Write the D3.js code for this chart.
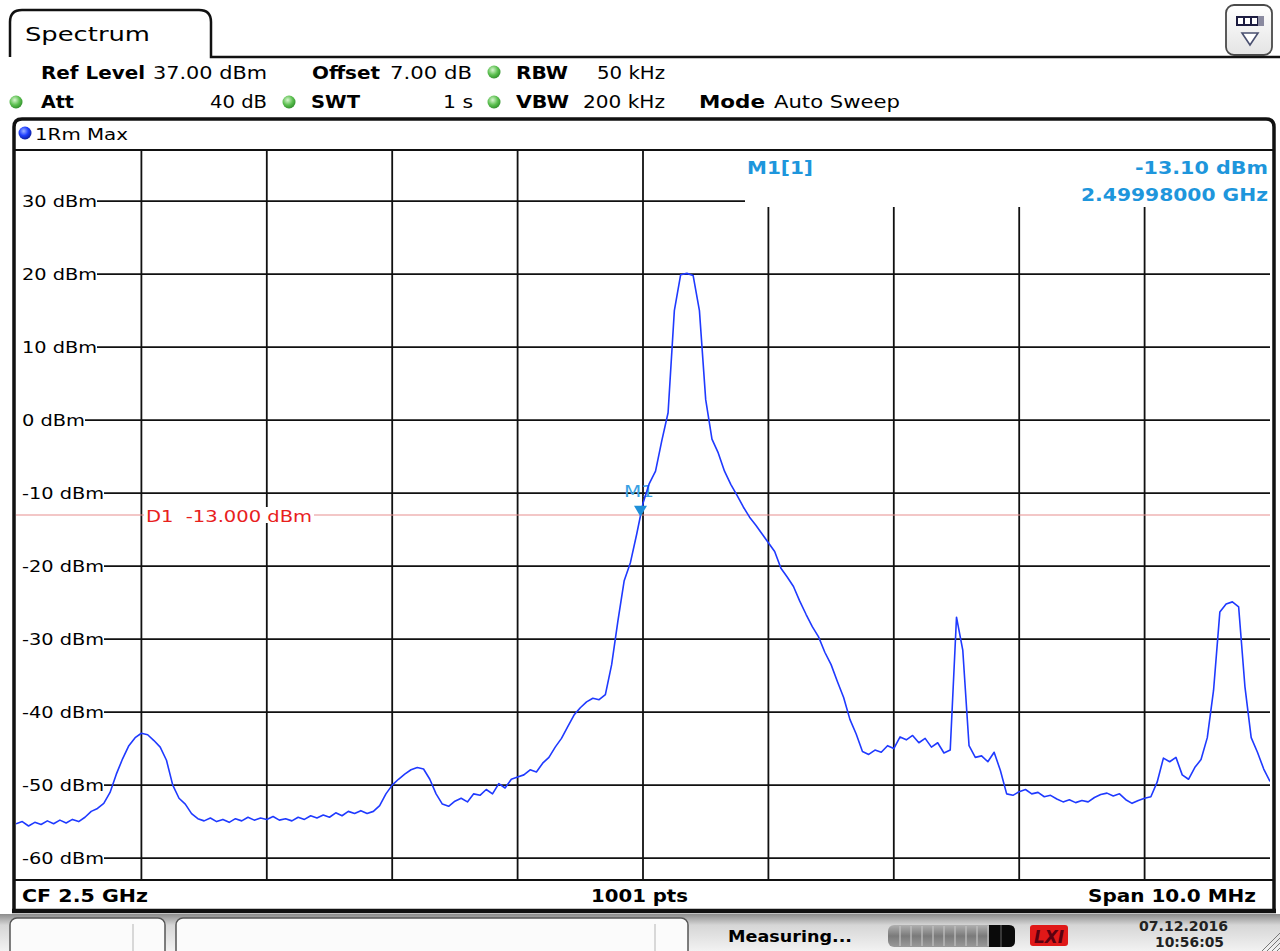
<!DOCTYPE html>
<html>
<head>
<meta charset="utf-8">
<script src="https://cdn.jsdelivr.net/npm/d3@7"></script>
<style>
  html, body { margin: 0; padding: 0; background: #fff; }
  svg { display: block; }
  text { font-family: "DejaVu Sans", Verdana, sans-serif; }
</style>
</head>
<body>
<svg id="chart" width="1280" height="951"></svg>
<script>
// ---------------- DATA ----------------
const centerFreqGHz = 2.5;
const spanMHz = 10;
const refLevel = 37;          // dBm, top of grid
const bottomLevel = -63;      // dBm, bottom of grid
const yTickValues = [30, 20, 10, 0, -10, -20, -30, -40, -50, -60];
const yTickLabels = ["30 dBm", "20 dBm", "10 dBm", "0 dBm", "-10 dBm", "-20 dBm", "-30 dBm", "-40 dBm", "-50 dBm", "-60 dBm"];
const xGridOffsetsMHz = [-4, -3, -2, -1, 0, 1, 2, 3, 4];

// trace sampled every 0.05 MHz from -5 MHz to +5 MHz (offset from CF), values in dBm
const traceDbm = [
  -55.3, -55.0, -55.6, -55.1, -55.4, -54.9, -55.3, -54.8, -55.2, -54.7,
  -55.0, -54.4, -53.6, -53.2, -52.5, -51.0, -48.5, -46.4, -44.6, -43.5,
  -42.9, -43.1, -43.9, -44.8, -46.6, -50.0, -51.8, -52.6, -53.9, -54.6,
  -54.9, -54.5, -55.0, -54.7, -55.1, -54.6, -54.9, -54.4, -54.8, -54.5,
  -54.7, -54.3, -54.8, -54.6, -54.9, -54.4, -54.7, -54.2, -54.5, -54.1,
  -54.4, -53.8, -54.2, -53.6, -53.9, -53.5, -53.9, -53.6, -52.8, -51.2,
  -50.0, -49.2, -48.5, -47.9, -47.6, -47.8, -49.2, -51.2, -52.6, -52.9,
  -52.2, -51.8, -52.3, -51.2, -51.4, -50.6, -51.2, -49.8, -50.4, -49.2,
  -48.9, -48.6, -47.9, -48.2, -47.0, -46.2, -44.8, -43.6, -42.0, -40.4,
  -39.4, -38.6, -38.1, -38.3, -37.6, -33.5, -27.5, -22.0, -19.5, -15.6,
  -11.4, -8.7, -7.0, -2.8, 1.0, 15.0, 19.9, 20.1, 19.8, 15.0,
  2.8, -2.6, -4.5, -7.0, -8.8, -10.3, -11.9, -13.3, -14.4, -15.6,
  -16.8, -18.0, -20.3, -21.5, -22.8, -24.8, -26.6, -28.3, -29.7, -31.8,
  -33.5, -35.8, -38.0, -41.0, -43.0, -45.4, -45.8, -45.2, -45.5, -44.6,
  -45.0, -43.4, -43.8, -43.2, -44.2, -43.6, -44.8, -44.2, -45.6, -45.2,
  -27.0, -31.5, -44.6, -46.2, -46.0, -46.8, -45.5, -48.0, -51.2, -51.4,
  -50.9, -50.6, -51.2, -51.0, -51.6, -51.4, -51.9, -52.3, -52.0, -52.4,
  -52.1, -52.3, -51.7, -51.3, -51.1, -51.5, -51.2, -52.0, -52.5, -52.1,
  -51.8, -51.6, -49.6, -46.3, -46.8, -46.2, -48.6, -49.2, -47.6, -46.5,
  -43.5, -37.0, -26.3, -25.2, -24.9, -25.6, -36.5, -43.5, -45.5, -47.8,
  -49.5
];
const traceStartMHz = -5;
const traceStepMHz = 0.05;

const displayLineDbm = -13;
const markerOffsetMHz = -0.02;  // 2.49998 GHz
const markerDbm = -13.10;

// ---------------- DRAW ----------------
const svg = d3.select("#chart");
const defs = svg.append("defs");

const x = d3.scaleLinear().domain([-spanMHz / 2, spanMHz / 2]).range([16, 1270]);
const y = d3.scaleLinear().domain([bottomLevel, refLevel]).range([880, 150]);

function txt(g, px, py, s, o = {}) {
  const t = g.append("text")
    .attr("x", px).attr("y", py)
    .attr("font-size", o.size || 17)
    .attr("font-weight", o.weight || "normal")
    .attr("fill", o.fill || "#000")
    .attr("text-anchor", o.anchor || "start")
    .attr("xml:space", "preserve")
    .style("white-space", "pre")
    .text(s);
  if (o.len) t.attr("textLength", o.len).attr("lengthAdjust", "spacingAndGlyphs");
  if (o.style) t.attr("font-style", o.style);
  return t;
}

// gradients
const gGreen = defs.append("radialGradient").attr("id", "gdot").attr("cx", "40%").attr("cy", "35%").attr("r", "70%");
gGreen.append("stop").attr("offset", "0%").attr("stop-color", "#d8f5d0");
gGreen.append("stop").attr("offset", "55%").attr("stop-color", "#5cc050");
gGreen.append("stop").attr("offset", "100%").attr("stop-color", "#2c8a28");
const gBlue = defs.append("radialGradient").attr("id", "bdot").attr("cx", "40%").attr("cy", "35%").attr("r", "70%");
gBlue.append("stop").attr("offset", "0%").attr("stop-color", "#9fb4ff");
gBlue.append("stop").attr("offset", "50%").attr("stop-color", "#2040ff");
gBlue.append("stop").attr("offset", "100%").attr("stop-color", "#0a1a90");
const gStatus = defs.append("linearGradient").attr("id", "gstat").attr("x1", 0).attr("y1", 0).attr("x2", 0).attr("y2", 1);
gStatus.append("stop").attr("offset", "0%").attr("stop-color", "#8c8c8c");
gStatus.append("stop").attr("offset", "30%").attr("stop-color", "#d6d6d6");
gStatus.append("stop").attr("offset", "100%").attr("stop-color", "#f2f2f2");
const gBar = defs.append("linearGradient").attr("id", "gbar").attr("x1", 0).attr("y1", 0).attr("x2", 0).attr("y2", 1);
gBar.append("stop").attr("offset", "0%").attr("stop-color", "#b0b0b0");
gBar.append("stop").attr("offset", "50%").attr("stop-color", "#7a7a7a");
gBar.append("stop").attr("offset", "100%").attr("stop-color", "#9a9a9a");
const gIcon = defs.append("linearGradient").attr("id", "gicon").attr("x1", 0).attr("y1", 0).attr("x2", 0).attr("y2", 1);
gIcon.append("stop").attr("offset", "0%").attr("stop-color", "#ffffff");
gIcon.append("stop").attr("offset", "100%").attr("stop-color", "#e4e4e4");

svg.append("rect").attr("width", 1280).attr("height", 951).attr("fill", "#fff");

// ---- Tab "Spectrum" ----
svg.append("path")
  .attr("d", "M10,57 L10,22 Q10,10 22,10 L199,10 Q211,10 211,22 L211,57 L1280,57")
  .attr("fill", "none").attr("stroke", "#111").attr("stroke-width", 2.5);
txt(svg, 25, 41, "Spectrum", { size: 20, len: 125 });

// top-right icon
svg.append("rect").attr("x", 1226).attr("y", 5).attr("width", 46).attr("height", 50).attr("rx", 8)
  .attr("fill", "url(#gicon)").attr("stroke", "#4a4a4a").attr("stroke-width", 1.8);
svg.append("rect").attr("x", 1236).attr("y", 16).attr("width", 27).attr("height", 10).attr("fill", "#1c1c40");
svg.append("rect").attr("x", 1258).attr("y", 16).attr("width", 6).attr("height", 10).attr("fill", "#8a8aa0");
[1238, 1245, 1252].forEach(px => svg.append("rect").attr("x", px).attr("y", 18).attr("width", 5).attr("height", 6).attr("fill", "#fff"));
svg.append("path").attr("d", "M1242,33 L1258,33 L1250,45 Z").attr("fill", "#fff").attr("stroke", "#4a5070").attr("stroke-width", 1.6);

// ---- settings rows ----
const dots = [[494, 72], [16, 102], [289, 102], [494, 102]];
dots.forEach(d => svg.append("circle").attr("cx", d[0]).attr("cy", d[1]).attr("rx", 7).attr("r", 6.5).attr("fill", "url(#gdot)"));
svg.append("rect").attr("x", 0).attr("y", 90).attr("width", 9).attr("height", 24).attr("fill", "#fff");

txt(svg, 41, 79, "Ref Level", { weight: "bold", len: 104 });
txt(svg, 153, 79, "37.00 dBm", { len: 114 });
txt(svg, 312, 79, "Offset", { weight: "bold", len: 68 });
txt(svg, 390, 79, "7.00 dB", { len: 82 });
txt(svg, 516, 79, "RBW", { weight: "bold", len: 52 });
txt(svg, 597, 79, "50 kHz", { len: 68 });

txt(svg, 41, 108, "Att", { weight: "bold", len: 33 });
txt(svg, 210, 108, "40 dB", { len: 57 });
txt(svg, 311, 108, "SWT", { weight: "bold", len: 49 });
txt(svg, 443, 108, "1 s", { len: 30 });
txt(svg, 516, 108, "VBW", { weight: "bold", len: 53 });
txt(svg, 583, 108, "200 kHz", { len: 82 });
txt(svg, 699, 108, "Mode", { weight: "bold", len: 66 });
txt(svg, 774, 108, "Auto Sweep", { len: 126 });

// ---- Panel frame ----
svg.append("path")
  .attr("d", "M14,912 L14,127 Q14,119 22,119 L1266,119 Q1274,119 1274,127 L1274,912")
  .attr("fill", "none").attr("stroke", "#111").attr("stroke-width", 3.5);
svg.append("line").attr("x1", 12).attr("x2", 1276).attr("y1", 911).attr("y2", 911).attr("stroke", "#111").attr("stroke-width", 4.5);

// trace label row
svg.append("circle").attr("cx", 25).attr("cy", 133).attr("r", 6.5).attr("fill", "url(#bdot)");
txt(svg, 35, 140, "1Rm Max", { size: 16, len: 93 });

// ---- Grid ----
const grid = svg.append("g");
grid.selectAll("line.h").data(yTickValues).join("line")
  .attr("x1", x(-5)).attr("x2", x(5))
  .attr("y1", d => y(d)).attr("y2", d => y(d))
  .attr("stroke", "#111").attr("stroke-width", 1.8);
grid.selectAll("line.v").data(xGridOffsetsMHz).join("line")
  .attr("x1", d => x(d)).attr("x2", d => x(d))
  .attr("y1", y(refLevel)).attr("y2", y(bottomLevel))
  .attr("stroke", "#111").attr("stroke-width", 1.8);
grid.append("line").attr("x1", 14).attr("x2", 1274).attr("y1", y(refLevel)).attr("y2", y(refLevel)).attr("stroke", "#111").attr("stroke-width", 1.8);
grid.append("line").attr("x1", 14).attr("x2", 1274).attr("y1", y(bottomLevel)).attr("y2", y(bottomLevel)).attr("stroke", "#111").attr("stroke-width", 1.8);

// blank area for marker info (covers grid)
svg.append("rect").attr("x", 745).attr("y", y(refLevel) + 1).attr("width", 1272 - 745).attr("height", 207 - y(refLevel) - 1).attr("fill", "#fff");

// y labels with white background
const yLabelWidths = [75, 75, 75, 63, 82, 82, 82, 82, 82, 82];
const yl = svg.append("g");
yTickValues.forEach((v, i) => {
  yl.append("rect").attr("x", 16).attr("y", y(v) - 9).attr("width", yLabelWidths[i] + 6).attr("height", 18).attr("fill", "#fff");
  txt(yl, 22, y(v) + 6, yTickLabels[i], { size: 16, len: yLabelWidths[i] });
});

// display line D1
svg.append("line").attr("x1", x(-5)).attr("x2", x(5)).attr("y1", y(displayLineDbm)).attr("y2", y(displayLineDbm))
  .attr("stroke", "#e89090").attr("stroke-width", 1.2);
svg.append("rect").attr("x", 144).attr("y", y(displayLineDbm) - 8).attr("width", 170).attr("height", 16).attr("fill", "#fff");
txt(svg, 146, y(displayLineDbm) + 7, "D1  -13.000 dBm", { size: 16, fill: "#e8201c", len: 166 });

// marker label (behind trace)
txt(svg, 624, 497, "M1", { size: 15, fill: "#3aa2e4", len: 30 });

// ---- Trace ----
svg.append("clipPath").attr("id", "plotclip").append("rect")
  .attr("x", x(-5)).attr("y", y(refLevel)).attr("width", x(5) - x(-5)).attr("height", y(bottomLevel) - y(refLevel));
const traceData = traceDbm.map((v, i) => ({ f: traceStartMHz + i * traceStepMHz, v }));
const line = d3.line().x(d => x(d.f)).y(d => y(d.v)).curve(d3.curveLinear);
svg.append("path").datum(traceData)
  .attr("clip-path", "url(#plotclip)")
  .attr("d", line)
  .attr("fill", "none").attr("stroke", "#1f3aff").attr("stroke-width", 1.6).attr("stroke-linejoin", "round");

// marker triangle
const mx = x(markerOffsetMHz), my = y(markerDbm);
svg.append("path").attr("d", `M${mx - 6.5},${my - 10} L${mx + 6.5},${my - 10} L${mx},${my + 1} Z`).attr("fill", "#1e8fd8");

// marker info
txt(svg, 747, 174, "M1[1]", { weight: "bold", fill: "#1e96dc", len: 66 });
txt(svg, 1268, 174, "-13.10 dBm", { weight: "bold", fill: "#1e96dc", anchor: "end", len: 133 });
txt(svg, 1268, 201, "2.49998000 GHz", { weight: "bold", fill: "#1e96dc", anchor: "end", len: 187 });

// ---- Footer ----
txt(svg, 22, 902, "CF 2.5 GHz", { weight: "bold", len: 126 });
txt(svg, 591, 902, "1001 pts", { weight: "bold", len: 97 });
txt(svg, 1256, 902, "Span 10.0 MHz", { weight: "bold", anchor: "end", len: 168 });

// ---- Status bar ----
svg.append("rect").attr("x", 0).attr("y", 914).attr("width", 1280).attr("height", 37).attr("fill", "url(#gstat)");
svg.append("rect").attr("x", 10).attr("y", 918).attr("width", 155).attr("height", 40).attr("rx", 7).attr("fill", "#fbfbfb").attr("stroke", "#555").attr("stroke-width", 1.5);
svg.append("line").attr("x1", 133).attr("x2", 133).attr("y1", 924).attr("y2", 951).attr("stroke", "#ccc").attr("stroke-width", 1.5);
svg.append("rect").attr("x", 176).attr("y", 918).attr("width", 512).attr("height", 40).attr("rx", 7).attr("fill", "#fbfbfb").attr("stroke", "#555").attr("stroke-width", 1.5);
svg.append("line").attr("x1", 655).attr("x2", 655).attr("y1", 924).attr("y2", 951).attr("stroke", "#ccc").attr("stroke-width", 1.5);
txt(svg, 728, 942, "Measuring...", { weight: "bold", size: 16, len: 124 });

svg.append("rect").attr("x", 888).attr("y", 925).attr("width", 127).attr("height", 22).attr("rx", 6).attr("fill", "url(#gbar)");
d3.range(9).forEach(i => {
  svg.append("line").attr("x1", 900 + i * 11).attr("x2", 900 + i * 11).attr("y1", 926).attr("y2", 946).attr("stroke", "#c4c4c4").attr("stroke-width", 1.2);
});
svg.append("path").attr("d", "M989,925 L1009,925 Q1015,925 1015,931 L1015,941 Q1015,947 1009,947 L989,947 Z").attr("fill", "#0a0a0a");
svg.append("line").attr("x1", 1001).attr("x2", 1001).attr("y1", 925).attr("y2", 947).attr("stroke", "#666").attr("stroke-width", 1);

svg.append("rect").attr("x", 1030).attr("y", 925).attr("width", 38).attr("height", 21).attr("rx", 3).attr("fill", "#e01818");
txt(svg, 1049, 943, "LXI", { weight: "bold", size: 17, fill: "#5a0010", anchor: "middle", style: "italic", len: 30 });

txt(svg, 1228, 931, "07.12.2016", { weight: "bold", size: 14, fill: "#222", anchor: "end", len: 89 });
txt(svg, 1224, 947, "10:56:05", { weight: "bold", size: 14, fill: "#222", anchor: "end", len: 69 });
[0, 5, 10, 15].forEach(o => {
  svg.append("line").attr("x1", 1262 + o).attr("y1", 951).attr("x2", 1280).attr("y2", 933 + o).attr("stroke", "#777").attr("stroke-width", 1);
});
</script>
</body>
</html>
